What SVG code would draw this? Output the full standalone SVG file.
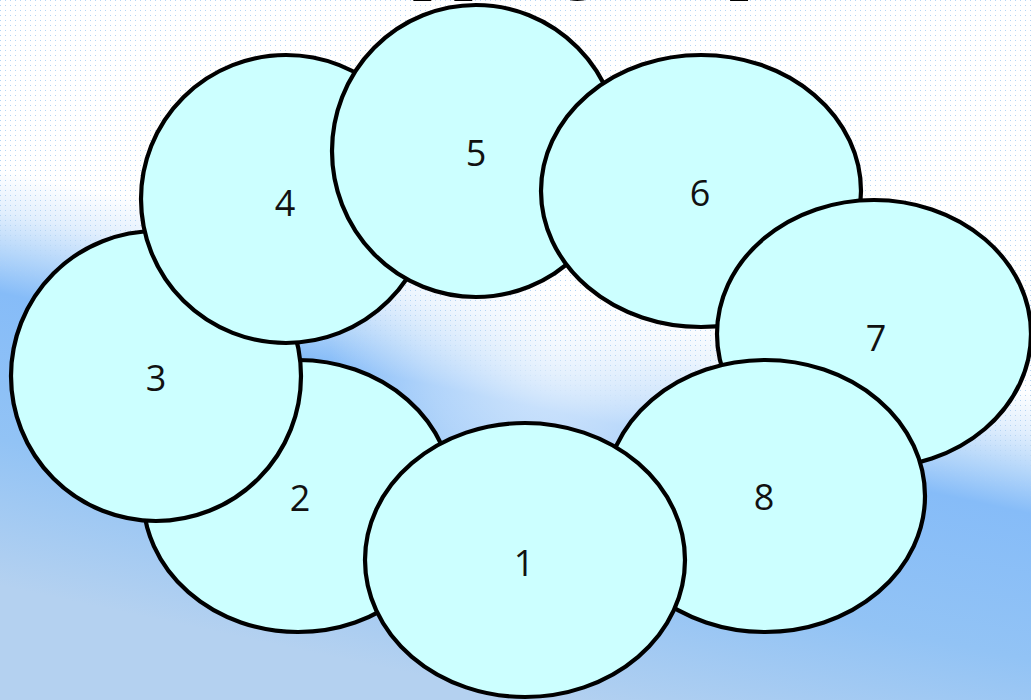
<svg xmlns="http://www.w3.org/2000/svg" width="1031" height="700" viewBox="0 0 1031 700">
<style>
.c{fill:#ccffff;stroke:#000;stroke-width:4.2}
.t{font-family:"Open Sans","Noto Sans","Liberation Sans",sans-serif;font-size:36px;fill:#111;text-anchor:middle}
.title{font-family:"Liberation Serif",serif;font-size:82px;fill:#000}
</style>
<defs>
<linearGradient id="bg" gradientUnits="userSpaceOnUse" x1="560" y1="120" x2="440" y2="680">
<stop offset="0" stop-color="#ffffff"/>
<stop offset="0.29" stop-color="#ffffff"/>
<stop offset="0.36" stop-color="#e2effd"/>
<stop offset="0.43" stop-color="#b4d6fa"/>
<stop offset="0.5" stop-color="#86bcf8"/>
<stop offset="0.75" stop-color="#92c3f5"/>
<stop offset="1" stop-color="#b4d1f0"/>
</linearGradient>
<radialGradient id="glow" gradientUnits="userSpaceOnUse" cx="560" cy="340" r="230">
<stop offset="0" stop-color="#ffffff" stop-opacity="0.75"/>
<stop offset="0.6" stop-color="#ffffff" stop-opacity="0.35"/>
<stop offset="1" stop-color="#ffffff" stop-opacity="0"/>
</radialGradient>
<linearGradient id="mg" gradientUnits="userSpaceOnUse" x1="560" y1="120" x2="440" y2="680">
<stop offset="0" stop-color="#fff"/>
<stop offset="0.38" stop-color="#fff"/>
<stop offset="0.48" stop-color="#000"/>
</linearGradient>
<mask id="m"><rect width="1031" height="700" fill="url(#mg)"/></mask>
<pattern id="dots" width="5" height="5" patternUnits="userSpaceOnUse">
<rect x="0" y="0" width="1" height="1" fill="#b4d4f4"/>
</pattern>
</defs>
<rect width="1031" height="700" fill="url(#bg)"/>
<rect width="1031" height="700" fill="url(#glow)"/>
<rect width="1031" height="700" fill="url(#dots)" mask="url(#m)"/>
<text class="title" x="189" y="-17">Overlapping Maps</text>
<g id="connectors"/>
<g id="n2"><ellipse class="c" cx="298" cy="496" rx="155" ry="136"/><text class="t" x="300" y="511">2</text></g>
<g id="n3"><ellipse class="c" cx="156" cy="376" rx="145" ry="145"/><text class="t" x="156" y="391">3</text></g>
<g id="n4"><ellipse class="c" cx="286" cy="199" rx="145" ry="144"/><text class="t" x="285" y="216">4</text></g>
<g id="n5"><ellipse class="c" cx="476" cy="151" rx="144" ry="146"/><text class="t" x="476" y="166">5</text></g>
<g id="n6"><ellipse class="c" cx="701" cy="191" rx="160" ry="136"/><text class="t" x="700" y="206">6</text></g>
<g id="n7"><ellipse class="c" cx="874" cy="334" rx="157" ry="134"/><text class="t" x="876" y="351">7</text></g>
<g id="n8"><ellipse class="c" cx="765" cy="496" rx="160" ry="136"/><text class="t" x="764" y="510">8</text></g>
<g id="n1"><ellipse class="c" cx="525" cy="560" rx="160" ry="137"/><text class="t" x="524" y="576">1</text></g>
</svg>
